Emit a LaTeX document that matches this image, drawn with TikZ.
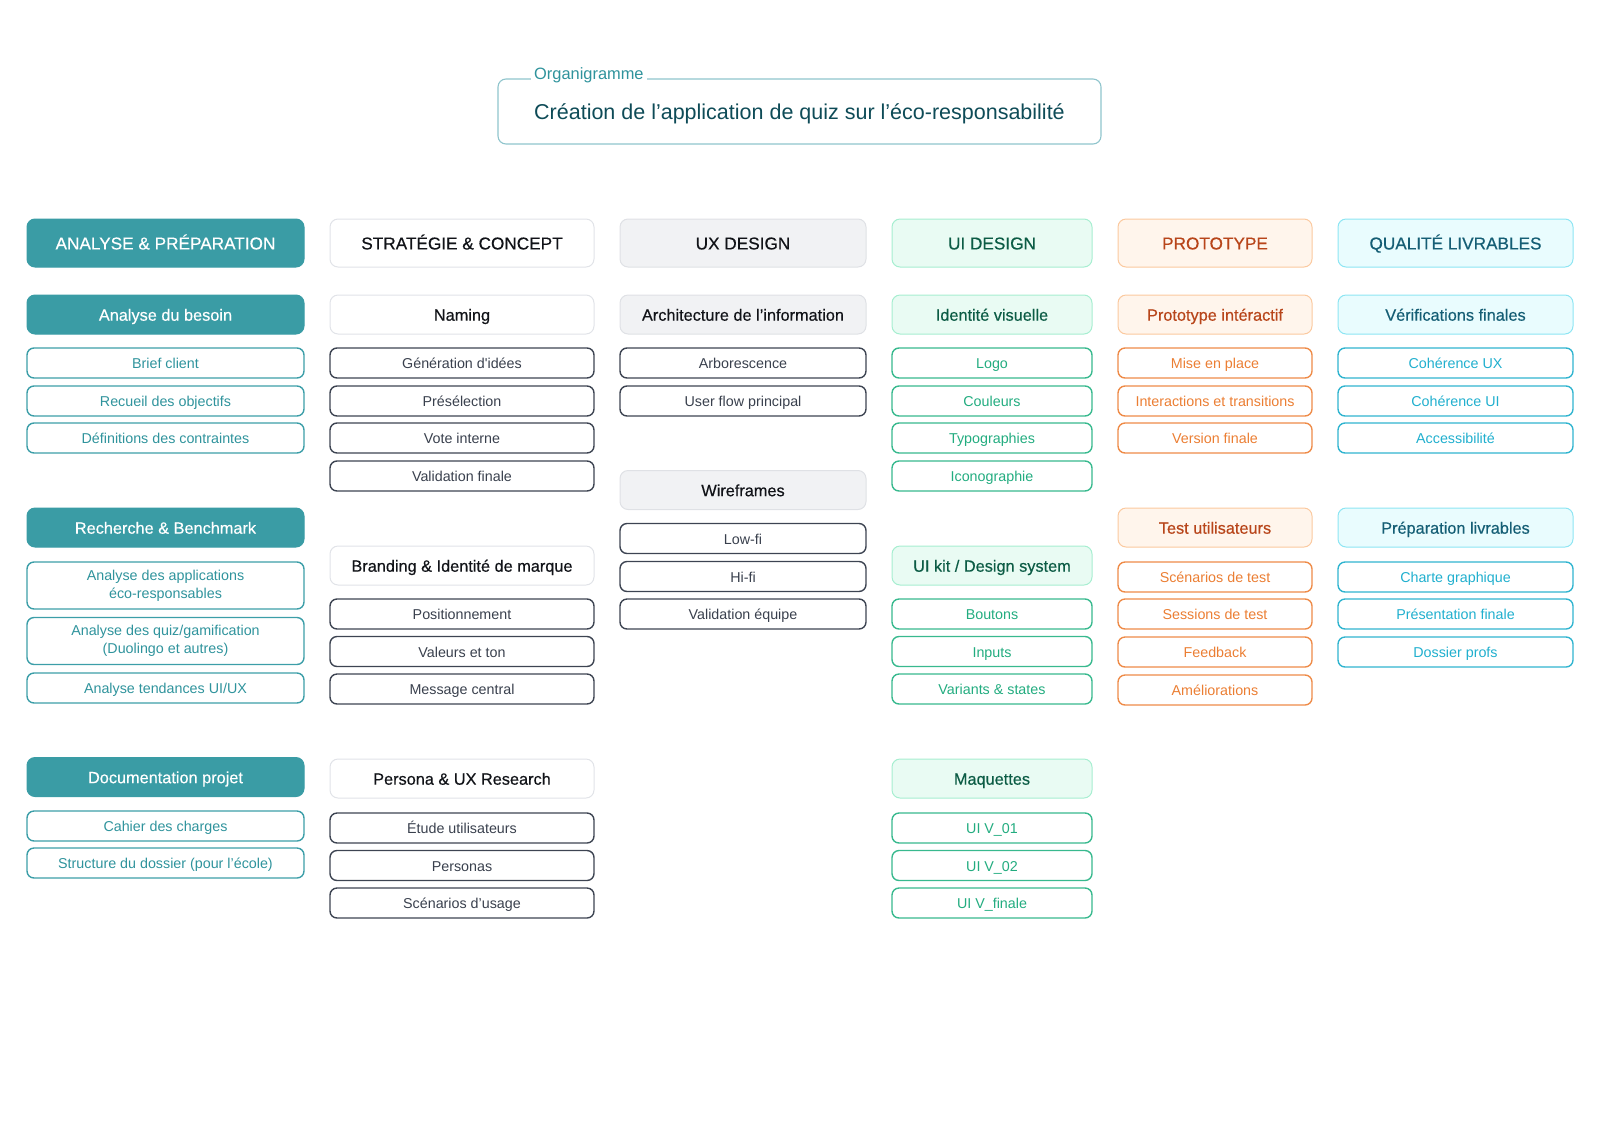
\documentclass[tikz,border=0pt]{standalone}
\usepackage{fontspec}
\setmainfont{Liberation Sans}[BoldFont=Liberation Sans, BoldFeatures={FakeBold=0.4}]

\definecolor{anaFill}{HTML}{3A9CA5}
\definecolor{anaLine}{HTML}{3C9EA8}
\definecolor{anaText}{HTML}{2F939C}
\definecolor{strLine}{HTML}{E1E3E8}
\definecolor{strTask}{HTML}{3D4452}
\definecolor{strText}{HTML}{39404D}
\definecolor{headText}{HTML}{111318}
\definecolor{uxFill}{HTML}{F1F2F4}
\definecolor{uxLine}{HTML}{DFE1E5}
\definecolor{uiFill}{HTML}{E9FBF3}
\definecolor{uiLine}{HTML}{A6EED0}
\definecolor{uiText}{HTML}{0C5C45}
\definecolor{uiTask}{HTML}{38B98E}
\definecolor{uiTaskText}{HTML}{22AC7F}
\definecolor{protoFill}{HTML}{FFF5EC}
\definecolor{protoLine}{HTML}{FBC99F}
\definecolor{protoText}{HTML}{B8451A}
\definecolor{protoTask}{HTML}{EE8B48}
\definecolor{protoTaskText}{HTML}{EB7E33}
\definecolor{qualFill}{HTML}{E9FCFE}
\definecolor{qualLine}{HTML}{8DE5F3}
\definecolor{qualText}{HTML}{155E75}
\definecolor{qualTask}{HTML}{30B4CF}
\definecolor{qualTaskText}{HTML}{20AFCE}
\definecolor{titleLine}{HTML}{8FC4CC}
\definecolor{titleText}{HTML}{0E4B57}

\begin{document}
\begin{tikzpicture}[x=1pt, y=-1pt,
  phase/.style={draw, rounded corners=8pt, line width=1pt, minimum height=48pt,
    inner sep=0pt, text height=14.4pt, text depth=1.5pt,
    font=\fontsize{17.2}{20}\selectfont\bfseries},
  group/.style={draw, rounded corners=8pt, line width=1pt, minimum height=39pt,
    inner sep=0pt, text height=13.7pt, text depth=1.3pt,
    font=\fontsize{16.3}{19}\selectfont\bfseries},
  task/.style={draw, rounded corners=7pt, line width=1.4pt, minimum height=30pt,
    inner sep=0pt, align=center, text height=12.3pt, text depth=0.9pt,
    font=\fontsize{14.3}{18}\selectfont},
  twolines/.style={minimum height=47pt, text height=, text depth=}]

  \useasboundingbox (0,0) rectangle (1600,1138);

  %=====================================================================
  % Title
  %=====================================================================
  \node[draw=titleLine, rounded corners=8pt, line width=1.1pt,
    minimum width=603pt, minimum height=65pt, text=titleText,
    text height=17.5pt, text depth=2.3pt,
    font=\fontsize{21.5}{26}\selectfont] (titre) at (799.5,111.5)
    {Création de l’application de quiz sur l’éco-responsabilité};
  \node[fill=white, anchor=base west, inner xsep=3pt, inner ysep=0pt,
    text=anaText, font=\fontsize{16.4}{19}\selectfont] (orga) at (531,79)
    {Organigramme};

  %=====================================================================
  % Column 1: Analyse & préparation
  %=====================================================================
  \begin{scope}[xshift=165.5pt,
      every node/.append style={minimum width=277pt},
      phase/.append style={fill=anaFill, draw=anaFill, text=white},
      group/.append style={fill=anaFill, draw=anaFill, text=white},
      task/.append style={draw=anaLine, text=anaText}]
    \node[phase] (ana) at (0,243) {ANALYSE \& PRÉPARATION};
    % besoin
    \node[group] (ana-besoin) at (0,314.5) {Analyse du besoin};
    \node[task] (ana-brief) at (0,363) {Brief client};
    \node[task] (ana-objectifs) at (0,401) {Recueil des objectifs};
    \node[task] (ana-contraintes) at (0,438) {Définitions des contraintes};
    % benchmark
    \node[group] (ana-bench) at (0,527.5) {Recherche \& Benchmark};
    \node[task, twolines] (ana-apps) at (0,585.5)
      {Analyse des applications\\éco-responsables};
    \node[task, twolines] (ana-quiz) at (0,641)
      {Analyse des quiz/gamification\\(Duolingo et autres)};
    \node[task] (ana-tendances) at (0,688) {Analyse tendances UI/UX};
    % documentation
    \node[group] (ana-doc) at (0,777) {Documentation projet};
    \node[task] (ana-cahier) at (0,826) {Cahier des charges};
    \node[task] (ana-dossier) at (0,863) {Structure du dossier (pour l’école)};
  \end{scope}

  %=====================================================================
  % Column 2: Stratégie & concept
  %=====================================================================
  \begin{scope}[xshift=462pt,
      every node/.append style={minimum width=264pt},
      phase/.append style={fill=white, draw=strLine, text=headText},
      group/.append style={fill=white, draw=strLine, text=headText},
      task/.append style={draw=strTask, text=strText}]
    \node[phase] (str) at (0,243) {STRATÉGIE \& CONCEPT};
    % naming
    \node[group] (str-naming) at (0,314.5) {Naming};
    \node[task] (str-idees) at (0,363) {Génération d\textquotesingle idées};
    \node[task] (str-preselection) at (0,401) {Présélection};
    \node[task] (str-vote) at (0,438) {Vote interne};
    \node[task] (str-validation) at (0,476) {Validation finale};
    % branding
    \node[group] (str-branding) at (0,565.5) {Branding \& Identité de marque};
    \node[task] (str-position) at (0,614) {Positionnement};
    \node[task] (str-valeurs) at (0,651.5) {Valeurs et ton};
    \node[task] (str-message) at (0,689) {Message central};
    % persona
    \node[group] (str-persona) at (0,778.5) {Persona \& UX Research};
    \node[task] (str-etude) at (0,828) {Étude utilisateurs};
    \node[task] (str-personas) at (0,865.5) {Personas};
    \node[task] (str-scenarios) at (0,903) {Scénarios d’usage};
  \end{scope}

  %=====================================================================
  % Column 3: UX design
  %=====================================================================
  \begin{scope}[xshift=743pt,
      every node/.append style={minimum width=246pt},
      phase/.append style={fill=uxFill, draw=uxLine, text=headText},
      group/.append style={fill=uxFill, draw=uxLine, text=headText},
      task/.append style={draw=strTask, text=strText}]
    \node[phase] (ux) at (0,243) {UX DESIGN};
    % architecture
    \node[group] (ux-archi) at (0,314.5) {Architecture de l’information};
    \node[task] (ux-arbo) at (0,363) {Arborescence};
    \node[task] (ux-flow) at (0,401) {User flow principal};
    % wireframes
    \node[group] (ux-wire) at (0,490) {Wireframes};
    \node[task] (ux-low) at (0,538.5) {Low-fi};
    \node[task] (ux-hi) at (0,576.5) {Hi-fi};
    \node[task] (ux-validation) at (0,614) {Validation équipe};
  \end{scope}

  %=====================================================================
  % Column 4: UI design
  %=====================================================================
  \begin{scope}[xshift=992pt,
      every node/.append style={minimum width=200pt},
      phase/.append style={fill=uiFill, draw=uiLine, text=uiText},
      group/.append style={fill=uiFill, draw=uiLine, text=uiText},
      task/.append style={draw=uiTask, text=uiTaskText}]
    \node[phase] (ui) at (0,243) {UI DESIGN};
    % identité
    \node[group] (ui-identite) at (0,314.5) {Identité visuelle};
    \node[task] (ui-logo) at (0,363) {Logo};
    \node[task] (ui-couleurs) at (0,401) {Couleurs};
    \node[task] (ui-typo) at (0,438) {Typographies};
    \node[task] (ui-icono) at (0,476) {Iconographie};
    % ui kit
    \node[group] (ui-kit) at (0,565.5) {UI kit / Design system};
    \node[task] (ui-boutons) at (0,614) {Boutons};
    \node[task] (ui-inputs) at (0,651.5) {Inputs};
    \node[task] (ui-variants) at (0,689) {Variants \& states};
    % maquettes
    \node[group] (ui-maquettes) at (0,778.5) {Maquettes};
    \node[task] (ui-v1) at (0,828) {UI V\_01};
    \node[task] (ui-v2) at (0,865.5) {UI V\_02};
    \node[task] (ui-vfinale) at (0,903) {UI V\_finale};
  \end{scope}

  %=====================================================================
  % Column 5: Prototype
  %=====================================================================
  \begin{scope}[xshift=1215pt,
      every node/.append style={minimum width=194pt},
      phase/.append style={fill=protoFill, draw=protoLine, text=protoText},
      group/.append style={fill=protoFill, draw=protoLine, text=protoText},
      task/.append style={draw=protoTask, text=protoTaskText}]
    \node[phase] (proto) at (0,243) {PROTOTYPE};
    % prototype
    \node[group] (proto-inter) at (0,314.5) {Prototype intéractif};
    \node[task] (proto-place) at (0,363) {Mise en place};
    \node[task] (proto-transitions) at (0,401) {Interactions et transitions};
    \node[task] (proto-version) at (0,438) {Version finale};
    % tests
    \node[group] (proto-test) at (0,527.5) {Test utilisateurs};
    \node[task] (proto-scenarios) at (0,577) {Scénarios de test};
    \node[task] (proto-sessions) at (0,614) {Sessions de test};
    \node[task] (proto-feedback) at (0,652) {Feedback};
    \node[task] (proto-amelio) at (0,690) {Améliorations};
  \end{scope}

  %=====================================================================
  % Column 6: Qualité livrables
  %=====================================================================
  \begin{scope}[xshift=1455.5pt,
      every node/.append style={minimum width=235pt},
      phase/.append style={fill=qualFill, draw=qualLine, text=qualText},
      group/.append style={fill=qualFill, draw=qualLine, text=qualText},
      task/.append style={draw=qualTask, text=qualTaskText}]
    \node[phase] (qual) at (0,243) {QUALITÉ LIVRABLES};
    % vérifications
    \node[group] (qual-verif) at (0,314.5) {Vérifications finales};
    \node[task] (qual-ux) at (0,363) {Cohérence UX};
    \node[task] (qual-ui) at (0,401) {Cohérence UI};
    \node[task] (qual-access) at (0,438) {Accessibilité};
    % livrables
    \node[group] (qual-prep) at (0,527.5) {Préparation livrables};
    \node[task] (qual-charte) at (0,577) {Charte graphique};
    \node[task] (qual-presentation) at (0,614) {Présentation finale};
    \node[task] (qual-dossier) at (0,652) {Dossier profs};
  \end{scope}

\end{tikzpicture}
\end{document}
